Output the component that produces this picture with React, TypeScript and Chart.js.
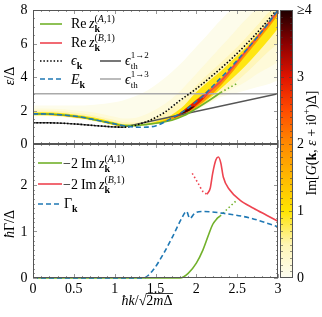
import React, { useEffect, useRef } from 'react';
import { Chart, registerables } from 'chart.js';
Chart.register(...registerables);

const FONT = '"Liberation Serif", "DejaVu Serif", serif';

// ---------- axes ----------
const kMin = 0;
const kMax = 3;
const epsMax = 8;
const gammaMax = 2.88;
const cbMax = 4;
const epsTicks = [0, 2, 4, 6, 8];
const gammaTicks = [0, 1, 2];
const cbTickValues = [0, 1, 2, 3, 4];
const cbTickLabels = ['0', '1', '2', '3', '≥4'];

// ---------- colour bar ----------
const cbStops = [0, 0.5, 1, 1.5, 2, 2.5, 3, 3.5, 4];
const cbColors = ['#fdfdf2', '#fff5b4', '#ffe400', '#ffb900', '#ff8a00', '#ff4c00', '#e01400', '#8c0000', '#1c0000'];

// ---------- top panel curves (k, eps) ----------
const epsK = [[0, 1.27], [0.25, 1.26], [0.5, 1.2], [0.75, 1.1], [1.0, 1.02], [1.1, 1.0], [1.2, 1.05], [1.3, 1.18], [1.4, 1.35], [1.5, 1.58], [1.6, 1.85], [1.8, 2.6], [2.0, 3.3], [2.2, 4.1], [2.4, 4.95], [2.6, 5.9], [2.8, 6.95], [3.0, 8.1]];
const EK = [[0, 1.8], [0.2, 1.79], [0.4, 1.72], [0.6, 1.6], [0.8, 1.4], [1.0, 1.2], [1.1, 1.1], [1.2, 1.03], [1.3, 1.0], [1.4, 1.01], [1.5, 1.08], [1.6, 1.28], [1.7, 1.55], [1.8, 1.82], [1.9, 2.15], [2.0, 2.55], [2.1, 2.95], [2.2, 3.45], [2.4, 4.45], [2.6, 5.55], [2.8, 6.7], [3.0, 8.0]];
const reZA = [[0, 1.8], [0.2, 1.79], [0.4, 1.72], [0.6, 1.6], [0.8, 1.4], [1.0, 1.2], [1.1, 1.1], [1.25, 1.1], [1.4, 1.17], [1.55, 1.27], [1.7, 1.42], [1.85, 1.7], [2.0, 2.12], [2.15, 2.58], [2.3, 3.08]];
const reZAdot = [[2.3, 3.08], [2.4, 3.35], [2.5, 3.62]];
const reZB = [[2.08, 2.75], [2.2, 3.3], [2.3, 3.75], [2.4, 4.3], [2.5, 4.9], [2.6, 5.5], [2.7, 6.1], [2.8, 6.7], [2.9, 7.3], [3.0, 8.0]];
const epsTh12 = [[0, 1.27], [0.2, 1.265], [0.4, 1.23], [0.6, 1.16], [0.8, 1.08], [0.95, 1.03], [1.1, 1.0], [3.0, 3.0]];
const epsTh13 = [[0, 3], [3, 3]];

// ---------- bottom panel curves (k, Gamma) ----------
const gammaK = [[0, 0], [1.35, 0], [1.47, 0.17], [1.6, 0.53], [1.71, 0.89], [1.82, 1.28], [1.88, 1.43], [1.92, 1.28], [1.98, 1.39], [2.08, 1.43], [2.33, 1.39], [2.66, 1.29], [3.0, 1.1]];
const imZA = [[0, 0], [1.8, 0], [1.9, 0.1], [2.0, 0.32], [2.08, 0.6], [2.15, 0.93], [2.2, 1.15], [2.25, 1.27], [2.29, 1.33]];
const imZAdot = [[2.29, 1.33], [2.39, 1.5], [2.5, 1.68]];
const imZBdot = [[1.95, 2.25], [2.02, 2.04], [2.08, 1.86], [2.13, 1.8]];
const imZB = [[2.13, 1.8], [2.17, 1.93], [2.2, 2.25], [2.24, 2.54], [2.27, 2.6], [2.3, 2.47], [2.33, 2.17], [2.41, 1.89], [2.53, 1.68], [2.7, 1.5], [2.86, 1.35], [3.0, 1.22]];

// ---------- spectral function bands (k grid, eps bounds, level) ----------
const kb = [0, 0.25, 0.5, 0.75, 1.0, 1.1, 1.25, 1.4, 1.55, 1.7, 1.85, 2.0, 2.15, 2.3, 2.45, 2.6, 2.75, 2.9, 3.0];
const heatPaleLo = [1.66, 1.64, 1.52, 1.34, 1.06, 0.98, 1.04, 1.12, 1.22, 1.36, 1.62, 2.0, 2.4, 2.8, 3.0, 3.2, 3.4, 3.6, 3.8];
const heatPaleHi = [2.3, 2.3, 2.3, 2.35, 2.5, 2.6, 2.85, 3.2, 3.7, 4.3, 5.0, 5.8, 6.6, 7.4, 8, 8, 8, 8, 8];
const heatLight1Lo = [1.68, 1.66, 1.54, 1.36, 1.08, 1.0, 1.05, 1.13, 1.23, 1.38, 1.65, 2.04, 2.45, 2.9, 3.3, 3.7, 4.2, 4.6, 4.9];
const heatLight1Hi = [2.12, 2.1, 2.02, 1.88, 1.62, 1.52, 1.55, 1.8, 2.2, 2.7, 3.4, 4.2, 5.0, 5.8, 6.6, 7.4, 8, 8, 8];
const heatLight2Lo = [1.7, 1.68, 1.56, 1.38, 1.1, 1.02, 1.07, 1.14, 1.24, 1.4, 1.68, 2.08, 2.5, 3.0, 3.55, 4.2, 4.9, 5.6, 6.0];
const heatLight2Hi = [2.0, 1.98, 1.88, 1.7, 1.43, 1.32, 1.28, 1.4, 1.7, 2.15, 2.75, 3.5, 4.2, 4.85, 5.55, 6.3, 7.1, 7.9, 8];
const heatYellowLo = [1.72, 1.7, 1.58, 1.4, 1.12, 1.05, 1.08, 1.15, 1.25, 1.42, 1.72, 2.15, 2.68, 3.3, 3.95, 4.65, 5.45, 6.3, 6.9];
const heatYellowHi = [1.9, 1.88, 1.76, 1.58, 1.3, 1.18, 1.14, 1.22, 1.42, 1.75, 2.3, 3.1, 3.75, 4.35, 5.05, 5.75, 6.55, 7.4, 8];
const heatOrangeLo = [1.74, 1.72, 1.6, 1.42, 1.14, 1.06, 1.1, 1.17, 1.3, 1.48, 1.75, 2.2, 2.78, 3.5, 4.35, 5.25, 6.15, 7.05, 7.7];
const heatOrangeHi = [1.81, 1.79, 1.67, 1.49, 1.21, 1.11, 1.1, 1.17, 1.32, 1.58, 2.05, 2.65, 3.25, 3.9, 4.7, 5.6, 6.5, 7.4, 8];
const heatRedK = [1.72, 1.8, 1.9, 2.0, 2.1, 2.18];
const heatRedLo = [1.52, 1.7, 1.95, 2.3, 2.75, 3.2];
const heatRedHi = [1.55, 1.85, 2.24, 2.62, 2.98, 3.24];
const heatDarkK = [1.8, 1.86, 1.92, 1.98];
const heatDarkLo = [1.76, 1.86, 2.0, 2.24];
const heatDarkHi = [1.78, 1.98, 2.18, 2.27];
const heatLevels = [0.06, 0.2, 0.45, 0.95, 1.9, 2.9, 3.8];

const GREEN = '#72b12b';
const RED = '#ee4450';
const BLUE = '#1f78b4';

function hexToRgb(h: string) {
  const n = parseInt(h.slice(1), 16);
  return [(n >> 16) & 255, (n >> 8) & 255, n & 255];
}
function cmap(v: number) {
  for (let i = 0; i < cbStops.length - 1; i++) {
    if (v <= cbStops[i + 1]) {
      const t = (v - cbStops[i]) / (cbStops[i + 1] - cbStops[i]);
      const a = hexToRgb(cbColors[i]);
      const b = hexToRgb(cbColors[i + 1]);
      const c = a.map((x, j) => Math.round(x + (b[j] - x) * t));
      return `rgb(${c[0]},${c[1]},${c[2]})`;
    }
  }
  return cbColors[cbColors.length - 1];
}

type Run = { t: string; f: string; dy?: number; gap?: number };
type Item = Run | { sup?: Run[]; sub?: Run[]; supDy?: number; subDy?: number; gap?: number };

const n14 = `14px ${FONT}`;
const i14 = `italic 14px ${FONT}`;
const n10 = `10px ${FONT}`;
const i10 = `italic 10px ${FONT}`;
const b10 = `bold 10px ${FONT}`;
const n9 = `9px ${FONT}`;

function drawRuns(ctx: CanvasRenderingContext2D, x: number, y: number, runs: Run[], draw: boolean) {
  let cx = x;
  for (const r of runs) {
    cx += r.gap || 0;
    ctx.font = r.f;
    if (draw) ctx.fillText(r.t, cx, y + (r.dy || 0));
    cx += ctx.measureText(r.t).width;
  }
  return cx;
}
function drawItems(ctx: CanvasRenderingContext2D, x: number, y: number, items: Item[], draw = true) {
  let cx = x;
  for (const it of items) {
    if ('t' in it) {
      cx = drawRuns(ctx, cx, y, [it as Run], draw);
    } else {
      cx += it.gap || 0;
      let w1 = 0;
      let w2 = 0;
      if (it.sup) w1 = drawRuns(ctx, cx, y + (it.supDy ?? -6.5), it.sup, draw) - cx;
      if (it.sub) w2 = drawRuns(ctx, cx, y + (it.subDy ?? 3.5), it.sub, draw) - cx;
      cx += Math.max(w1, w2);
    }
  }
  return cx;
}
function drawRotated(ctx: CanvasRenderingContext2D, cx: number, cy: number, items: Item[]) {
  const w = drawItems(ctx, 0, 0, items, false);
  ctx.save();
  ctx.translate(cx, cy);
  ctx.rotate(-Math.PI / 2);
  drawItems(ctx, -w / 2, 5, items, true);
  ctx.restore();
}
function seg(ctx: CanvasRenderingContext2D, x0: number, y0: number, x1: number, y1: number) {
  ctx.beginPath();
  ctx.moveTo(x0, y0);
  ctx.lineTo(x1, y1);
  ctx.stroke();
}
function legendLine(ctx: CanvasRenderingContext2D, x0: number, x1: number, y: number, color: string, dash: number[], w = 1.6) {
  ctx.save();
  ctx.strokeStyle = color;
  ctx.lineWidth = w;
  ctx.setLineDash(dash);
  seg(ctx, x0, y, x1, y);
  ctx.restore();
}

function drawPanel(ctx: CanvasRenderingContext2D, xs: any, ys: any, minor: number, major: number) {
  const L = xs.left, R = xs.right, T = ys.top, B = ys.bottom;
  ctx.save();
  ctx.strokeStyle = '#999';
  ctx.lineWidth = 1;
  for (let i = 0; i <= 30; i++) {
    const v = kMin + i * 0.1;
    const px = Math.round(xs.getPixelForValue(v)) + 0.5;
    const len = i % 5 === 0 ? 4 : 2;
    seg(ctx, px, B, px, B - len);
    seg(ctx, px, T, px, T + len);
  }
  const n = Math.floor((ys.max - ys.min) / minor + 1e-6);
  for (let i = 0; i <= n; i++) {
    const v = ys.min + i * minor;
    const py = Math.round(ys.getPixelForValue(v)) + 0.5;
    const r = v / major;
    const len = Math.abs(r - Math.round(r)) < 1e-6 ? 4 : 2;
    seg(ctx, L, py, L + len, py);
    seg(ctx, R, py, R - len, py);
  }
  ctx.strokeStyle = '#555';
  ctx.strokeRect(Math.round(L) + 0.5, Math.round(T) + 0.5, Math.round(R - L) - 1, Math.round(B - T) - 1);
  ctx.restore();
}

const zA: Item[] = [{ t: 'z', f: i14, gap: 2.5 }, { sup: [{ t: '(', f: n10 }, { t: 'A', f: i10 }, { t: ',1)', f: n10 }], sub: [{ t: 'k', f: b10 }] }];
const zB: Item[] = [{ t: 'z', f: i14, gap: 2.5 }, { sup: [{ t: '(', f: n10 }, { t: 'B', f: i10 }, { t: ',1)', f: n10 }], sub: [{ t: 'k', f: b10 }] }];

const decor = {
  id: 'decor',
  afterDraw(chart: any) {
    const ctx: CanvasRenderingContext2D = chart.ctx;
    const xs = chart.scales.x;
    const yt = chart.scales.yTop;
    const yb = chart.scales.yBot;
    const cb = chart.scales.cb;
    drawPanel(ctx, xs, yt, 0.5, 2);
    drawPanel(ctx, xs, yb, 0.1, 1);

    // colour bar
    const c0 = Math.round(xs.right) + 2;
    const c1 = c0 + 13;
    const g = ctx.createLinearGradient(0, cb.getPixelForValue(0), 0, cb.getPixelForValue(cbMax));
    cbStops.forEach((s, i) => g.addColorStop(s / cbMax, cbColors[i]));
    ctx.fillStyle = g;
    ctx.fillRect(c0, cb.top, c1 - c0, cb.bottom - cb.top);
    ctx.save();
    ctx.strokeStyle = 'rgba(60,60,60,0.55)';
    ctx.lineWidth = 1;
    for (let i = 1; i < 40; i++) {
      const py = Math.round(cb.getPixelForValue(i * 0.1)) + 0.5;
      const len = i % 10 === 0 ? 4 : 3;
      seg(ctx, c0, py, c0 + len, py);
      seg(ctx, c1, py, c1 - len, py);
    }
    ctx.strokeStyle = '#555';
    ctx.strokeRect(c0 + 0.5, Math.round(cb.top) + 0.5, c1 - c0 - 1, Math.round(cb.bottom - cb.top) - 1);
    ctx.restore();

    ctx.save();
    ctx.fillStyle = '#000';
    // tick labels
    ctx.font = n14;
    ctx.textBaseline = 'middle';
    ctx.textAlign = 'right';
    epsTicks.forEach((v) => ctx.fillText(String(v), 27.5, yt.getPixelForValue(v) + 0.5));
    gammaTicks.forEach((v) => ctx.fillText(String(v), 27.5, yb.getPixelForValue(v) + 0.5));
    ctx.textAlign = 'left';
    cbTickValues.forEach((v, i) => ctx.fillText(cbTickLabels[i], c1 + 4, cb.getPixelForValue(v) + 0.5));
    ctx.textAlign = 'left';
    ctx.textBaseline = 'alphabetic';

    // top legend
    legendLine(ctx, 40, 62, 24, GREEN, []);
    drawItems(ctx, 71, 28, [{ t: 'Re', f: n14 }, ...zA]);
    legendLine(ctx, 40, 62, 43, RED, []);
    drawItems(ctx, 71, 47, [{ t: 'Re', f: n14 }, ...zB]);
    legendLine(ctx, 40, 62, 61, '#000', [1.5, 1.9]);
    drawItems(ctx, 71, 65, [{ t: 'ϵ', f: i14 }, { sub: [{ t: 'k', f: b10 }] }]);
    legendLine(ctx, 100, 121, 61, '#555', []);
    drawItems(ctx, 125, 65, [{ t: 'ϵ', f: i14 }, { sup: [{ t: '1→2', f: n9 }], sub: [{ t: 'th', f: n9 }], supDy: -7.5, subDy: 4 }]);
    legendLine(ctx, 40, 62, 79, BLUE, [5, 3]);
    drawItems(ctx, 71, 84, [{ t: 'E', f: i14 }, { sub: [{ t: 'k', f: b10 }] }]);
    legendLine(ctx, 100, 121, 79, '#aaa', []);
    drawItems(ctx, 125, 84, [{ t: 'ϵ', f: i14 }, { sup: [{ t: '1→3', f: n9 }], sub: [{ t: 'th', f: n9 }], supDy: -7.5, subDy: 4 }]);

    // bottom legend
    legendLine(ctx, 38, 62, 163, GREEN, []);
    drawItems(ctx, 63, 168, [{ t: '−2', f: n14 }, { t: 'Im', f: n14, gap: 3 }, ...zA]);
    legendLine(ctx, 38, 62, 184, RED, []);
    drawItems(ctx, 63, 189, [{ t: '−2', f: n14 }, { t: 'Im', f: n14, gap: 3 }, ...zB]);
    legendLine(ctx, 38, 62, 204, BLUE, [5, 3]);
    drawItems(ctx, 64, 208, [{ t: 'Γ', f: n14 }, { sub: [{ t: 'k', f: b10 }] }]);

    // axis titles
    drawRotated(ctx, 8.5, 76, [{ t: 'ε', f: i14 }, { t: '/Δ', f: n14 }]);
    drawRotated(ctx, 8.5, 224, [{ t: 'ħ', f: i14 }, { t: 'Γ', f: n14 }, { t: '/Δ', f: n14 }]);
    drawRotated(ctx, 311, 143, [
      { t: 'Im[', f: n14 }, { t: 'G', f: i14 }, { t: '(', f: n14 }, { t: 'k', f: `bold 14px ${FONT}` },
      { t: ', ', f: n14 }, { t: 'ε', f: i14 }, { t: ' + i0', f: n14 }, { sup: [{ t: '+', f: n10 }], supDy: -6 }, { t: ')Δ]', f: n14 },
    ]);

    // x title
    const part1: Item[] = [{ t: 'ħ', f: i14 }, { t: 'k', f: i14 }, { t: '/', f: n14 }, { t: '√', f: n14 }];
    const part2: Item[] = [{ t: '2', f: n14 }, { t: 'm', f: i14 }, { t: 'Δ', f: n14 }];
    const w1 = drawItems(ctx, 0, 0, part1, false);
    const w2 = drawItems(ctx, 0, 0, part2, false);
    const x0 = 147 - (w1 + w2) / 2;
    const base = 305;
    const xa = drawItems(ctx, x0, base, part1);
    const xbEnd = drawItems(ctx, xa, base, part2);
    ctx.strokeStyle = '#000';
    ctx.lineWidth = 0.8;
    seg(ctx, xa - 0.5, base - 11.5, xbEnd + 0.5, base - 11.5);
    ctx.restore();
  },
};

function line(data: number[][], yAxisID: string, color: string, width: number, dash: number[], order: number, tension = true) {
  return {
    type: 'line',
    data: data.map(([x, y]) => ({ x, y })),
    xAxisID: 'x',
    yAxisID,
    borderColor: color,
    borderWidth: width,
    borderDash: dash,
    pointRadius: 0,
    fill: false,
    cubicInterpolationMode: tension ? 'monotone' : 'default',
    tension: 0,
    order,
    clip: yAxisID === 'yBot' ? { left: 0, right: 0, top: 0, bottom: 2 } : 0,
  };
}

function buildDatasets() {
  const ds: any[] = [];
  const layers = [
    { k: kb, lo: heatPaleLo, hi: heatPaleHi },
    { k: kb, lo: heatLight1Lo, hi: heatLight1Hi },
    { k: kb, lo: heatLight2Lo, hi: heatLight2Hi },
    { k: kb, lo: heatYellowLo, hi: heatYellowHi },
    { k: kb, lo: heatOrangeLo, hi: heatOrangeHi },
    { k: heatRedK, lo: heatRedLo, hi: heatRedHi },
    { k: heatDarkK, lo: heatDarkLo, hi: heatDarkHi },
  ];
  layers.forEach((L, i) => {
    const col = cmap(heatLevels[i]);
    const loIdx = ds.length;
    ds.push({
      type: 'line', data: L.k.map((x, j) => ({ x, y: L.lo[j] })), xAxisID: 'x', yAxisID: 'yTop',
      borderWidth: 0, borderColor: 'rgba(0,0,0,0)', pointRadius: 0, fill: false,
      cubicInterpolationMode: 'monotone', order: 100 - i, clip: 0,
    });
    ds.push({
      type: 'line', data: L.k.map((x, j) => ({ x, y: L.hi[j] })), xAxisID: 'x', yAxisID: 'yTop',
      borderWidth: 0, borderColor: 'rgba(0,0,0,0)', pointRadius: 0,
      fill: { target: loIdx, above: col, below: col }, backgroundColor: col,
      cubicInterpolationMode: 'monotone', order: 100 - i, clip: 0,
    });
  });
  ds.push(line(epsTh13, 'yTop', '#aaa', 1.4, [], 10, false));
  ds.push(line(epsTh12, 'yTop', '#555', 1.4, [], 9, false));
  ds.push(line(reZA, 'yTop', GREEN, 1.6, [], 8));
  ds.push(line(reZAdot, 'yTop', GREEN, 1.6, [1.5, 2.5], 8));
  ds.push(line(reZB, 'yTop', RED, 1.6, [], 7));
  ds.push(line(epsK, 'yTop', '#000', 1.6, [1.5, 1.9], 6));
  ds.push(line(EK, 'yTop', BLUE, 1.6, [5, 3], 5));

  ds.push(line(imZA, 'yBot', GREEN, 1.6, [], 8));
  ds.push(line(imZAdot, 'yBot', GREEN, 1.6, [1.5, 2.5], 8));
  ds.push(line(imZBdot, 'yBot', RED, 1.6, [1.5, 2.5], 7));
  ds.push(line(imZB, 'yBot', RED, 1.6, [], 7));
  ds.push(line(gammaK, 'yBot', BLUE, 1.6, [5, 3], 5));
  return ds;
}

const tickFont = { family: FONT, size: 14 };
const hiddenY = (min: number, max: number) => ({
  type: 'linear', min, max,
  grid: { display: false, drawTicks: false }, border: { display: false },
  ticks: { display: false, includeBounds: false },
});

export default function App() {
  const ref = useRef<HTMLCanvasElement | null>(null);
  useEffect(() => {
    document.body.style.margin = '0';
    if (!ref.current) return;
    const chart = new Chart(ref.current, {
      type: 'line',
      data: { datasets: buildDatasets() },
      options: {
        responsive: false,
        animation: false,
        devicePixelRatio: 1,
        events: [],
        layout: { padding: { top: 10, left: 0, right: 0, bottom: 0 } },
        plugins: { legend: { display: false }, tooltip: { enabled: false } },
        scales: {
          x: {
            type: 'linear', position: 'bottom', min: kMin, max: kMax,
            grid: { display: false, drawTicks: false }, border: { display: false },
            ticks: { stepSize: 0.5, includeBounds: false, font: tickFont, color: '#000', padding: 3, maxRotation: 0, autoSkip: false, callback: (v: any) => String(v) },
            afterFit: (s: any) => { s.height = 39; },
          },
          yBot: { ...hiddenY(0, gammaMax), position: 'left', stack: 'panels', stackWeight: 1, afterFit: (s: any) => { s.width = 33; } },
          yTop: { ...hiddenY(0, epsMax), position: 'left', stack: 'panels', stackWeight: 1, afterFit: (s: any) => { s.width = 33; } },
          cb: { ...hiddenY(0, cbMax), position: 'right', afterFit: (s: any) => { s.width = 44; } },
        },
      } as any,
      plugins: [decor],
    } as any);
    return () => chart.destroy();
  }, []);
  return (
    <div style={{ width: 322, height: 317 }}>
      <canvas ref={ref} width={322} height={317} style={{ display: 'block' }} />
    </div>
  );
}
